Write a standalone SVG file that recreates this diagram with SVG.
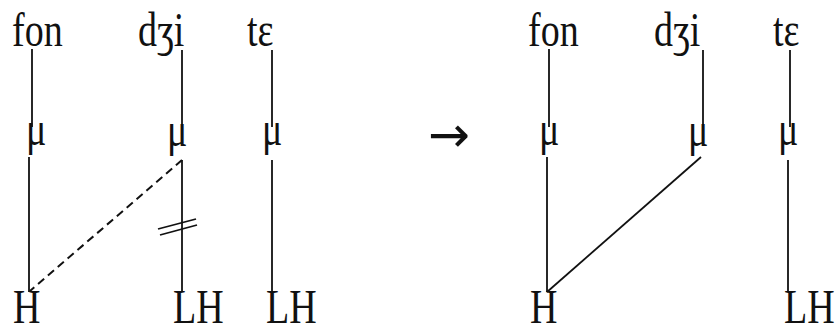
<svg xmlns="http://www.w3.org/2000/svg" width="837" height="327" viewBox="0 0 837 327">
<style>
text{font-family:"Liberation Serif","Times New Roman",serif;font-size:38px;fill:#111}
.a{font-family:"DejaVu Sans",sans-serif;font-size:50px}
.l{stroke:#111;stroke-width:1.8;fill:none}
.d{stroke:#111;stroke-width:2;fill:none;stroke-dasharray:8 5}
</style>
<rect width="837" height="327" fill="#fff"/>
<g id="connectors">
<line class="l" x1="32" y1="49" x2="32" y2="127"/>
<line class="l" x1="29" y1="157" x2="29" y2="292"/>
<line class="l" x1="182" y1="50" x2="182" y2="140"/>
<line class="l" x1="182" y1="160" x2="182" y2="292"/>
<line class="l" x1="272" y1="50" x2="272" y2="127"/>
<line class="l" x1="272" y1="160" x2="272" y2="292"/>
<line class="d" x1="182" y1="160" x2="30" y2="291"/>
<line class="l" x1="158" y1="229" x2="196" y2="219"/>
<line class="l" x1="160" y1="235" x2="197" y2="225"/>
<line class="l" x1="549" y1="49" x2="549" y2="127"/>
<line class="l" x1="547" y1="157" x2="547" y2="292"/>
<line class="l" x1="703" y1="50" x2="703" y2="140"/>
<line class="l" x1="701" y1="157" x2="547" y2="292"/>
<line class="l" x1="790" y1="50" x2="790" y2="127"/>
<line class="l" x1="788" y1="160" x2="788" y2="292"/>
</g>
<g id="left-fon"><text transform="translate(12,46) scale(1,1.27)">fon</text></g>
<g id="left-dzi"><text transform="translate(138,46) scale(1,1.27)">dʒi</text></g>
<g id="left-te"><text transform="translate(247,46) scale(1,1.27)">tɛ</text></g>
<g id="left-mu1"><text transform="translate(26,145) scale(1,1.27)">μ</text></g>
<g id="left-mu2"><text transform="translate(167,146) scale(1,1.27)">μ</text></g>
<g id="left-mu3"><text transform="translate(262,145) scale(1,1.27)">μ</text></g>
<g id="left-H"><text transform="translate(13,323) scale(1,1.27)">H</text></g>
<g id="left-LH1"><text transform="translate(173,323) scale(1,1.27)">LH</text></g>
<g id="left-LH2"><text transform="translate(266,323) scale(1,1.27)">LH</text></g>
<g id="arrow"><text class="a" transform="translate(428,152)">→</text></g>
<g id="right-fon"><text transform="translate(528,46) scale(1,1.27)">fon</text></g>
<g id="right-dzi"><text transform="translate(654,46) scale(1,1.27)">dʒi</text></g>
<g id="right-te"><text transform="translate(773,46) scale(1,1.27)">tɛ</text></g>
<g id="right-mu1"><text transform="translate(539,145) scale(1,1.27)">μ</text></g>
<g id="right-mu2"><text transform="translate(688,146) scale(1,1.27)">μ</text></g>
<g id="right-mu3"><text transform="translate(778,145) scale(1,1.27)">μ</text></g>
<g id="right-H"><text transform="translate(530,323) scale(1,1.27)">H</text></g>
<g id="right-LH"><text transform="translate(784,323) scale(1,1.27)">LH</text></g>
</svg>
